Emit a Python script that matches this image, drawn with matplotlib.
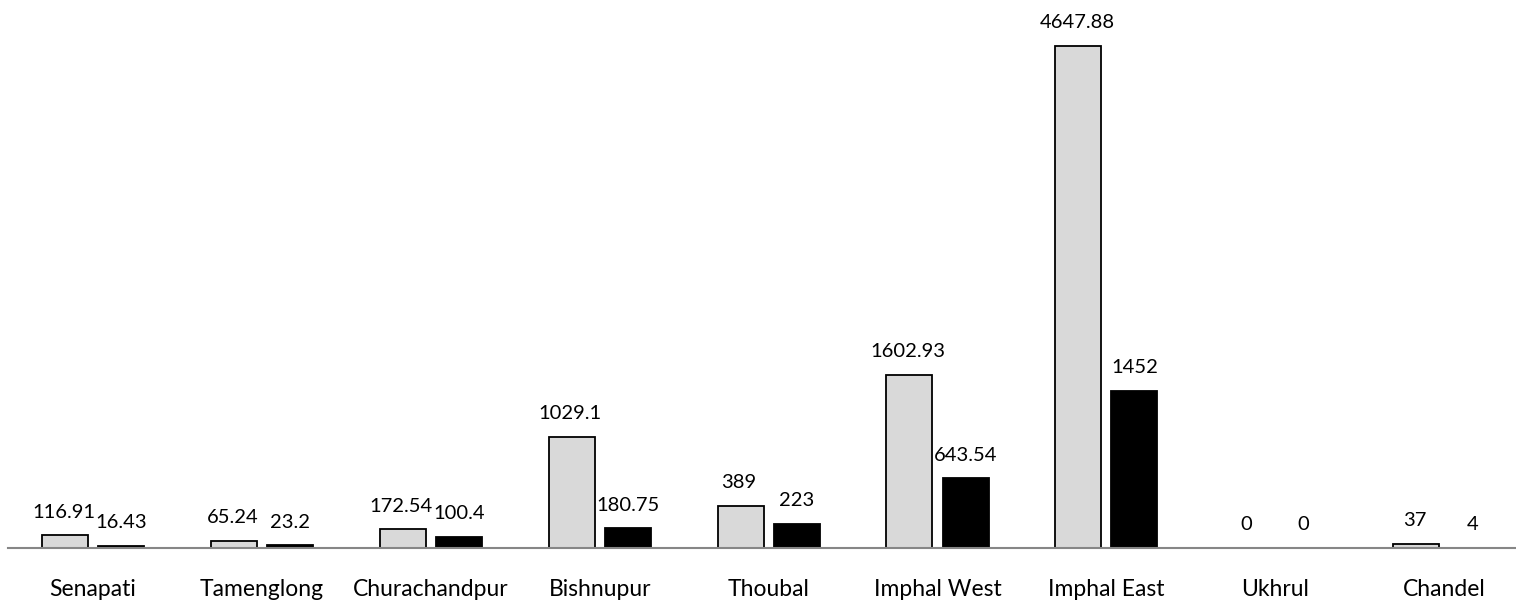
import matplotlib
matplotlib.use("Agg")
import matplotlib.pyplot as plt
import numpy as np

categories = ["Senapati", "Tamenglong", "Churachandpur", "Bishnupur", "Thoubal",
              "Imphal West", "Imphal East", "Ukhrul", "Chandel"]
series_a = [116.91, 65.24, 172.54, 1029.1, 389, 1602.93, 4647.88, 0, 37]
series_b = [16.43, 23.2, 100.4, 180.75, 223, 643.54, 1452, 0, 4]
labels_a = ["116.91", "65.24", "172.54", "1029.1", "389", "1602.93", "4647.88", "0", "37"]
labels_b = ["16.43", "23.2", "100.4", "180.75", "223", "643.54", "1452", "0", "4"]

plt.rcParams['font.family'] = ['Lato', 'DejaVu Sans']

fig = plt.figure(figsize=(15.16, 6.02), dpi=100)
ax = fig.add_axes([8/1516, 54/602, 1508/1516, 548/602])

x = np.arange(len(categories))
w = 0.272
off = 0.166
ax.bar(x - off, series_a, w, color="#d9d9d9", edgecolor="black", linewidth=1.3)
ax.bar(x + off, series_b, w, color="black", edgecolor="black", linewidth=1.3)

for xi, v, t in zip(x - off, series_a, labels_a):
    ax.annotate(t, (xi, v), xytext=(-1, 12.8), textcoords="offset points",
                ha="center", va="baseline", fontsize=14.5)
for xi, v, t in zip(x + off, series_b, labels_b):
    ax.annotate(t, (xi, v), xytext=(0, 12.8), textcoords="offset points",
                ha="center", va="baseline", fontsize=14.5)

ax.set_xlim(-0.503, 8.425)
ax.set_ylim(0, 548 / 0.108)
ax.set_xticks(x)
ax.set_xticklabels(categories, fontsize=16.5)
ax.tick_params(axis="x", length=0, pad=22)
ax.set_yticks([])
for s in ["top", "left", "right"]:
    ax.spines[s].set_visible(False)
ax.spines["bottom"].set_color("#868686")
ax.spines["bottom"].set_linewidth(1.5)

fig.savefig("out.png", dpi=100)
